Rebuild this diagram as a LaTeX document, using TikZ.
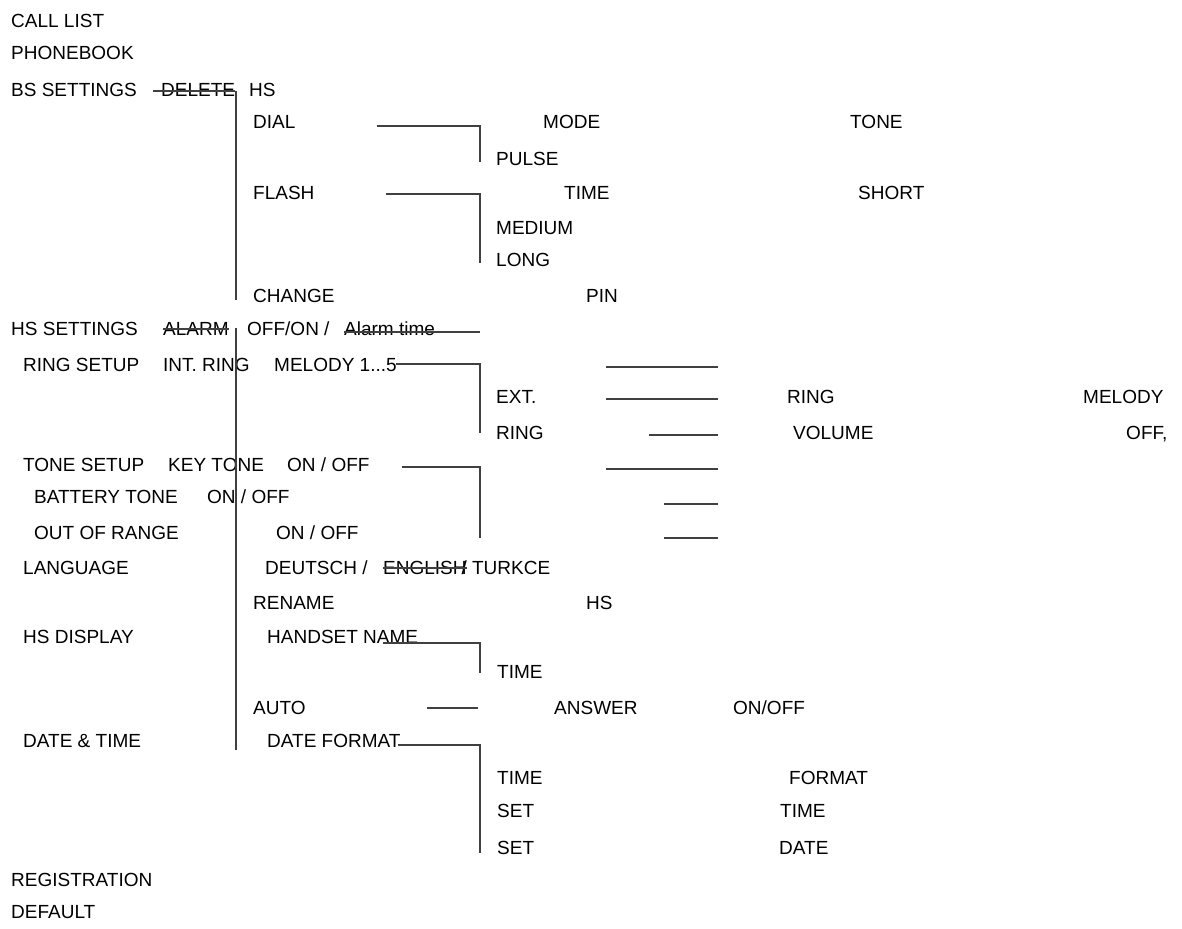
\documentclass[tikz,border=0pt]{standalone}
\usepackage{fontspec}
\setmainfont{Liberation Sans}
\usetikzlibrary{positioning}

\begin{document}
\begin{tikzpicture}[
        x=1pt, y=-1pt,
        item/.style={anchor=base west, inner sep=0pt, font=\fontsize{19}{21}\selectfont},
        link/.style={draw, black!75, line width=1.3pt},
        strike/.style={draw, black!75, line width=1.1pt}]
    \useasboundingbox (0,0) rectangle (1182,928);
    % main menu
    \node[item] (call) at (11,28) {CALL LIST};
    \node[item] (phone) at (11,60) {PHONEBOOK};
    \node[item] (bs) at (11,97) {BS SETTINGS};
    \node[item] (del) at (161,97) {DELETE};
    \node[item] (delhs) at (249,97) {HS};
    \node[item] (dial) at (253,129) {DIAL};
    \node[item] (mode) at (543,129) {MODE};
    \node[item] (tone) at (850,129) {TONE};
    \node[item] (pulse) at (496,165) {PULSE};
    \node[item] (flash) at (253,199) {FLASH};
    \node[item] (ftime) at (564,199) {TIME};
    \node[item] (short) at (858,199) {SHORT};
    \node[item] (medium) at (496,234) {MEDIUM};
    \node[item] (long) at (496,266) {LONG};
    \node[item] (change) at (253,302) {CHANGE};
    \node[item] (pin) at (586,302) {PIN};
    % handset settings
    \node[item] (hs) at (11,335) {HS SETTINGS};
    \node[item] (alarm) at (163,335) {ALARM};
    \node[item] (offon) at (247,335) {OFF/ON /};
    \node[item] (atime) at (344,335) {Alarm time};
    \node[item] (ring) at (23,371) {RING SETUP};
    \node[item] (intring) at (163,371) {INT. RING};
    \node[item] (melody) at (274,371) {MELODY 1...5};
    \node[item] (ext) at (496,403) {EXT.};
    \node[item] (extring) at (787,403) {RING};
    \node[item] (extmel) at (1083,403) {MELODY};
    \node[item] (rvol) at (496,439) {RING};
    \node[item] (volume) at (793,439) {VOLUME};
    \node[item] (voloff) at (1126,439) {OFF,};
    \node[item] (tset) at (23,471) {TONE SETUP};
    \node[item] (key) at (168,471) {KEY TONE};
    \node[item] (keyon) at (287,471) {ON / OFF};
    \node[item] (batt) at (34,503) {BATTERY TONE};
    \node[item] (batton) at (207,503) {ON / OFF};
    \node[item] (range) at (34,539) {OUT OF RANGE};
    \node[item] (rangeon) at (276,539) {ON / OFF};
    \node[item] (lang) at (23,574) {LANGUAGE};
    \node[item] (deu) at (265,574) {DEUTSCH / \phantom{ENGLISH} / TURKCE};
    \node[item] (eng) at (383,574) {ENGLISH};
    \node[item] (rename) at (253,609) {RENAME};
    \node[item] (renhs) at (586,609) {HS};
    \node[item] (disp) at (23,643) {HS DISPLAY};
    \node[item] (hname) at (267,643) {HANDSET NAME};
    \node[item] (dtime) at (497,678) {TIME};
    \node[item] (auto) at (253,714) {AUTO};
    \node[item] (answer) at (554,714) {ANSWER};
    \node[item] (ansoff) at (733,714) {ON/OFF};
    \node[item] (date) at (23,747) {DATE \& TIME};
    \node[item] (dform) at (267,747) {DATE FORMAT};
    \node[item] (tform) at (497,784) {TIME};
    \node[item] (tform2) at (789,784) {FORMAT};
    \node[item] (stime) at (497,817) {SET};
    \node[item] (stime2) at (780,817) {TIME};
    \node[item] (sdate) at (497,854) {SET};
    \node[item] (sdate2) at (779,854) {DATE};
    \node[item] (reg) at (11,886) {REGISTRATION};
    \node[item] (default) at (11,918) {DEFAULT};
    % tree lines
    \path[link] (236,91) -- (236,300);
    \path[link] (236,328) -- (236,750);
    \path[link] (377,126) -- (480,126) -- (480,162);
    \path[link] (386,194) -- (480,194) -- (480,263);
    \path[link] (344,332) -- (480,332);
    \path[link] (396,364) -- (480,364) -- (480,433);
    \path[link] (402,467) -- (480,467) -- (480,538);
    \path[link] (383,643) -- (480,643) -- (480,673);
    \path[link] (427,708) -- (478,708);
    \path[link] (398,745) -- (480,745) -- (480,853);
    \foreach \y/\a in {367/606, 399/606, 435/649, 469/606, 504/664, 538/664}
        \path[link] (\a,\y) -- (718,\y);
    % crossed out entries
    \path[strike] (153,91) -- (del.east |- 0,91);
    \path[strike] (alarm.west |- 0,329) -- (alarm.east |- 0,329);
    \path[strike] (eng.west |- 0,568) -- (eng.east |- 0,568);
\end{tikzpicture}
\end{document}
